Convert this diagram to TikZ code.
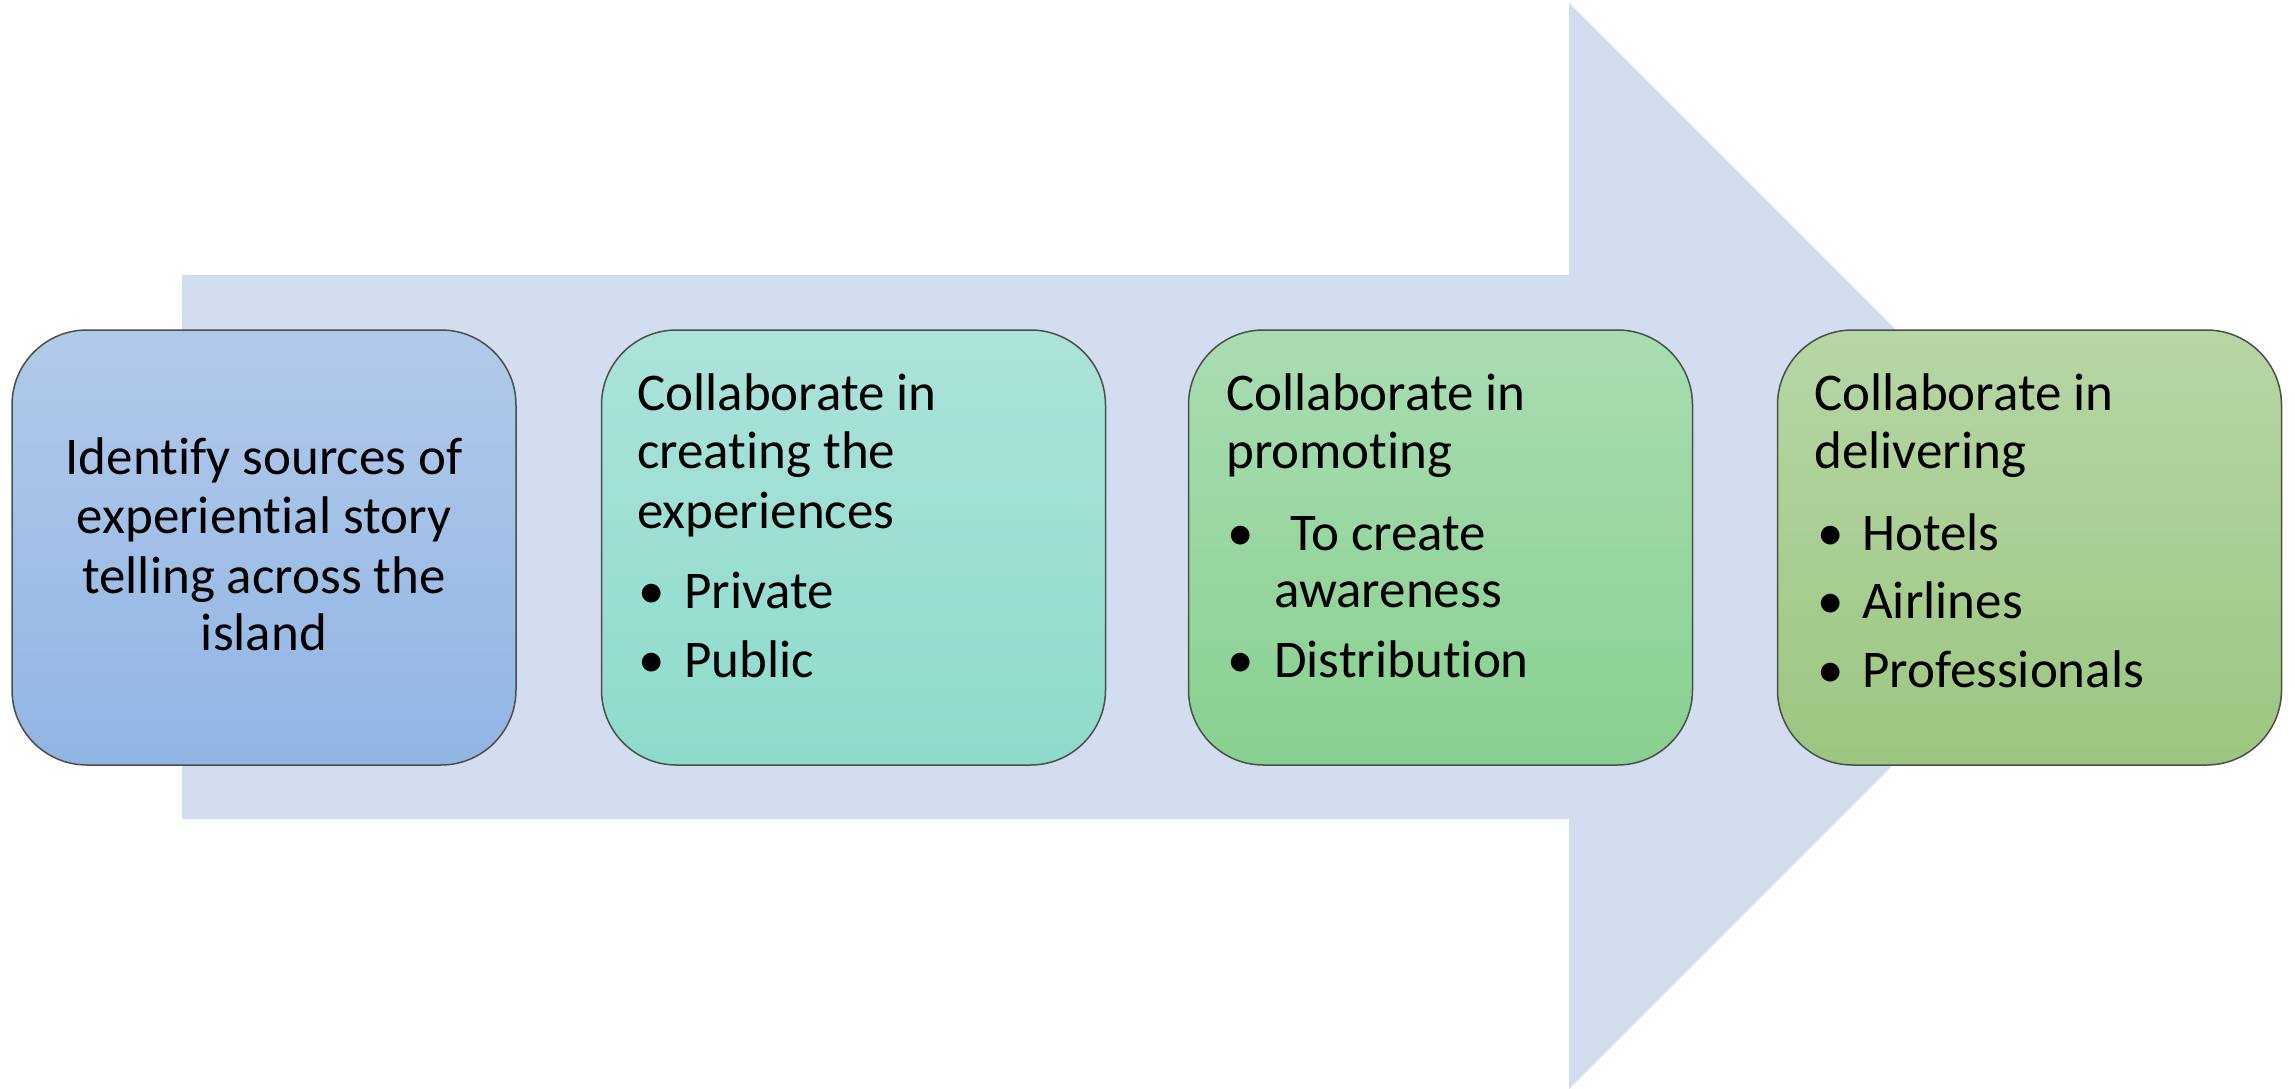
\documentclass[tikz,border=0pt]{standalone}
\usepackage{fontspec}
\setmainfont[Ligatures=NoCommon,RawFeature={-liga;-clig}]{Carlito}
\definecolor{arrowfill}{HTML}{D2DEEF}
\definecolor{boxline}{HTML}{4A4F4A}
\definecolor{aT}{HTML}{B2CAEA}\definecolor{aB}{HTML}{91B5E4}
\definecolor{bT}{HTML}{ACE3DB}\definecolor{bB}{HTML}{8DDBCC}
\definecolor{cT}{HTML}{A9DDB3}\definecolor{cB}{HTML}{88D08F}
\definecolor{dT}{HTML}{B7D6A5}\definecolor{dB}{HTML}{9CC680}
\begin{document}
\begin{tikzpicture}[x=1pt,y=-1pt,
  stagebox/.style={draw=boxline, line width=1.5pt, rounded corners=75pt,
    minimum width=504pt, minimum height=435pt, inner sep=0pt},
  txt/.style={inner sep=0pt, font=\fontsize{53}{58}\selectfont},
  ltxt/.style={txt, anchor=base west},
  ctxt/.style={txt, anchor=base}]
\useasboundingbox (0,0) rectangle (2295,1089);
\fill[white] (0,0) rectangle (2295,1089);
% big arrow
\fill[arrowfill] (182,275) -- (1569,275) -- (1569,3) -- (2112,546) -- (1569,1089) -- (1569,819) -- (182,819) -- cycle;
% boxes
\node[stagebox, top color=aT, bottom color=aB] (b1) at (264,547.5) {};
\node[stagebox, top color=bT, bottom color=bB] (b2) at (853.5,547.5) {};
\node[stagebox, top color=cT, bottom color=cB] (b3) at (1440.5,547.5) {};
\node[stagebox, top color=dT, bottom color=dB] (b4) at (2029.5,547.5) {};
% box 1 text
\node[ctxt] (a1) at (264,474) {Identify sources of};
\node[ctxt] (a2) at (264,533) {experiential story};
\node[ctxt] (a3) at (264,593) {telling across the};
\node[ctxt] (a4) at (264,650) {island};
% box 2 text
\node[ltxt] (c1) at (637,410) {Collaborate in};
\node[ltxt] (c2) at (637,468) {creating the};
\node[ltxt] (c3) at (637,528) {experiences};
\node[ltxt] (c4d) at (638,608) {•};
\node[ltxt] (c4) at (684,608) {Private};
\node[ltxt] (c5d) at (638,677) {•};
\node[ltxt] (c5) at (684,677) {Public};
% box 3 text
\node[ltxt] (e1) at (1226,410) {Collaborate in};
\node[ltxt] (e2) at (1226,468) {promoting};
\node[ltxt] (e3d) at (1227,550) {•};
\node[ltxt] (e3) at (1290,550) {To create};
\node[ltxt] (e4) at (1274,607) {awareness};
\node[ltxt] (e5d) at (1227,677) {•};
\node[ltxt] (e5) at (1274,677) {Distribution};
% box 4 text
\node[ltxt] (g1) at (1814,410) {Collaborate in};
\node[ltxt] (g2) at (1814,468) {delivering};
\node[ltxt] (g3d) at (1817,550) {•};
\node[ltxt] (g3) at (1862,550) {Hotels};
\node[ltxt] (g4d) at (1817,618) {•};
\node[ltxt] (g4) at (1862,618) {Airlines};
\node[ltxt] (g5d) at (1817,687) {•};
\node[ltxt] (g5) at (1862,687) {Professionals};
\end{tikzpicture}
\end{document}
